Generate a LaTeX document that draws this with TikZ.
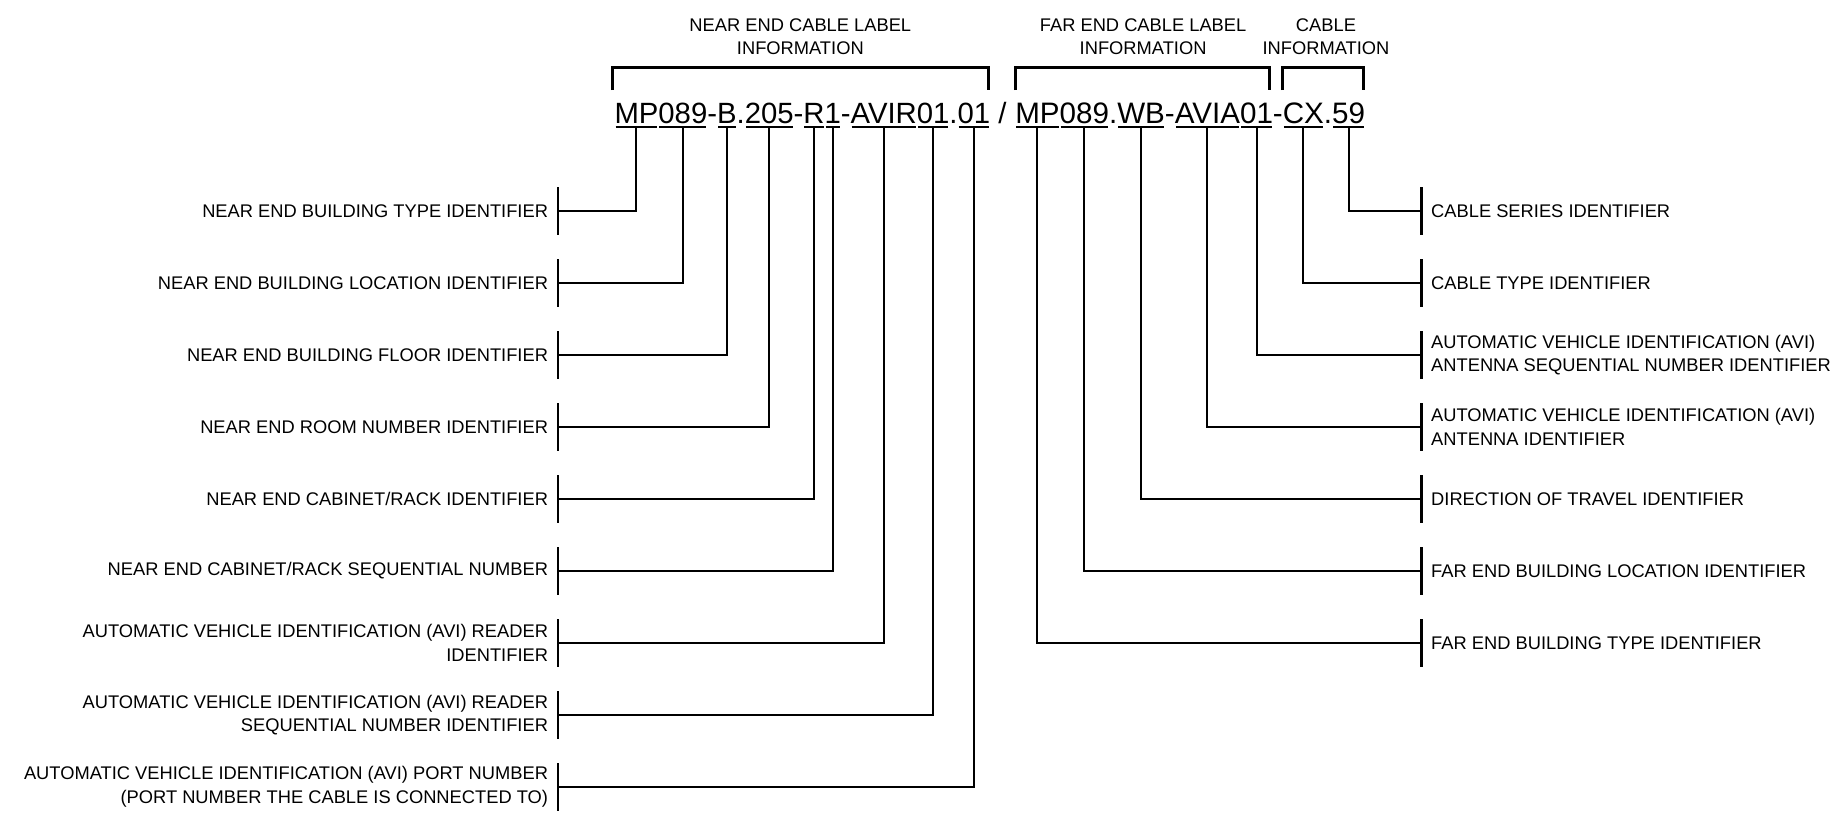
\documentclass[tikz,border=0pt]{standalone}
\usepackage{fontspec}
\setmainfont{Liberation Sans}
\usetikzlibrary{calc}
\tikzset{
  code/.style={inner sep=0pt, outer sep=0pt, anchor=base west, text depth=0pt, font=\fontsize{29.3}{35}\selectfont},
  codefar/.style={code, font=\fontsize{29.6}{35}\selectfont},
  lab/.style={inner ysep=0pt, outer sep=0pt, minimum height=48pt, font=\fontsize{18.3}{23.5}\selectfont},
  llab/.style={lab, anchor=east, align=right, inner xsep=10pt},
  rlab/.style={lab, anchor=west, align=left, inner xsep=9.5pt},
  head/.style={align=center, inner sep=0pt, font=\fontsize{18.3}{23.5}\selectfont},
  conn/.style={line width=2pt},
  tickline/.style={line width=2.8pt},
  brk/.style={line width=3pt},
  uline/.style={line width=1.8pt},
}
\begin{document}
\begin{tikzpicture}[x=1pt,y=-1pt]
\useasboundingbox (0,0) rectangle (1845,815);
% code string
\node[code] (n1) at (614.5,123) {MP};
\node[code] (n2) at (n1.base east) {089};
\node[code] (n3) at (n2.base east) {-};
\node[code] (n4) at (n3.base east) {B};
\node[code] (n5) at (n4.base east) {.};
\node[code] (n6) at (n5.base east) {205};
\node[code] (n7) at (n6.base east) {-};
\node[code] (n8) at (n7.base east) {R};
\node[code] (n9) at (n8.base east) {1};
\node[code] (n10) at (n9.base east) {-};
\node[code] (n11) at (n10.base east) {AVIR};
\node[code] (n12) at (n11.base east) {01};
\node[code] (n13) at (n12.base east) {.};
\node[code] (n14) at (n13.base east) {01};
\node[code] (n15) at (n14.base east) {\hspace*{.278em}/\hspace*{.3em}};
\node[codefar] (n16) at (n15.base east) {MP};
\node[codefar] (n17) at (n16.base east) {089};
\node[codefar] (n18) at (n17.base east) {.};
\node[codefar] (n19) at (n18.base east) {WB};
\node[codefar] (n20) at (n19.base east) {-};
\node[codefar] (n21) at (n20.base east) {AVIA};
\node[codefar] (n22) at (n21.base east) {01};
\node[codefar] (n23) at (n22.base east) {-};
\node[codefar] (n24) at (n23.base east) {CX};
\node[codefar] (n25) at (n24.base east) {.};
\node[codefar] (n26) at (n25.base east) {59};
\foreach \s in {n1,n2,n4,n6,n8,n9,n11,n12,n14,n16,n17,n19,n21,n22,n24,n26}
  \draw[uline] ([xshift=1pt,yshift=-4pt]\s.south west) -- ([xshift=-1pt,yshift=-4pt]\s.south east);
% brackets
\draw[brk] ([xshift=-2pt]n1.west |- 0,90) -- ([xshift=-2pt]n1.west |- 0,67) -- ([xshift=-2pt]n14.east |- 0,67) -- ([xshift=-2pt]n14.east |- 0,90);
\draw[brk] (n16.west |- 0,90) -- (n16.west |- 0,67) -- ([xshift=-3pt]n22.east |- 0,67) -- ([xshift=-3pt]n22.east |- 0,90);
\draw[brk] (n24.west |- 0,90) -- (n24.west |- 0,67) -- ([xshift=-2pt]n26.east |- 0,67) -- ([xshift=-2pt]n26.east |- 0,90);
\coordinate (c1) at ($(n1.west)!0.5!(n14.east)$);
\coordinate (c2) at ($(n16.west)!0.5!(n22.east)$);
\coordinate (c3) at ($(n24.west)!0.5!(n26.east)$);
\node[head] (H1) at ([xshift=-2pt]c1 |- 0,36.5) {NEAR END CABLE LABEL\\INFORMATION};
\node[head] (H2) at ([xshift=-1pt]c2 |- 0,36.5) {FAR END CABLE LABEL\\INFORMATION};
\node[head] (H3) at ([xshift=2pt]c3 |- 0,36.5) {CABLE\\INFORMATION};
% left labels
\node[llab] (L1) at (558,211) {NEAR END BUILDING TYPE IDENTIFIER};
\node[llab] (L2) at (558,283) {NEAR END BUILDING LOCATION IDENTIFIER};
\node[llab] (L3) at (558,355) {NEAR END BUILDING FLOOR IDENTIFIER};
\node[llab] (L4) at (558,427) {NEAR END ROOM NUMBER IDENTIFIER};
\node[llab] (L5) at (558,499) {NEAR END CABINET/RACK IDENTIFIER};
\node[llab] (L6) at (558,571) {NEAR END CABINET/RACK SEQUENTIAL NUMBER};
\node[llab] (L7) at (558,643) {AUTOMATIC VEHICLE IDENTIFICATION (AVI) READER\\IDENTIFIER};
\node[llab] (L8) at (558,715) {AUTOMATIC VEHICLE IDENTIFICATION (AVI) READER\\SEQUENTIAL NUMBER IDENTIFIER};
\node[llab] (L9) at (558,787) {AUTOMATIC VEHICLE IDENTIFICATION (AVI) PORT NUMBER\\(PORT NUMBER THE CABLE IS CONNECTED TO)};
% right labels
\node[rlab] (R1) at (1421.7,211) {CABLE SERIES IDENTIFIER};
\node[rlab] (R2) at (1421.7,283) {CABLE TYPE IDENTIFIER};
\node[rlab] (R3) at (1421.7,355) {AUTOMATIC VEHICLE IDENTIFICATION (AVI)\\ANTENNA SEQUENTIAL NUMBER IDENTIFIER};
\node[rlab] (R4) at (1421.7,427) {AUTOMATIC VEHICLE IDENTIFICATION (AVI)\\ANTENNA IDENTIFIER};
\node[rlab] (R5) at (1421.7,499) {DIRECTION OF TRAVEL IDENTIFIER};
\node[rlab] (R6) at (1421.7,571) {FAR END BUILDING LOCATION IDENTIFIER};
\node[rlab] (R7) at (1421.7,643) {FAR END BUILDING TYPE IDENTIFIER};
% ticks
\foreach \l in {L1,L2,L3,L4,L5,L6,L7,L8,L9}
  \draw[tickline] (\l.north east) -- (\l.south east);
\foreach \r in {R1,R2,R3,R4,R5,R6,R7}
  \draw[tickline] (\r.north west) -- (\r.south west);
% connectors
\foreach \s/\l in {n1/L1,n2/L2,n4/L3,n6/L4,n8/L5,n9/L6,n11/L7,n12/L8,n14/L9}
  \draw[conn] ([yshift=-4pt]\s.south) |- (\l.east);
\foreach \s/\r in {n26/R1,n24/R2,n22/R3,n21/R4,n19/R5,n17/R6,n16/R7}
  \draw[conn] ([yshift=-4pt]\s.south) |- (\r.west);
\end{tikzpicture}
\end{document}
